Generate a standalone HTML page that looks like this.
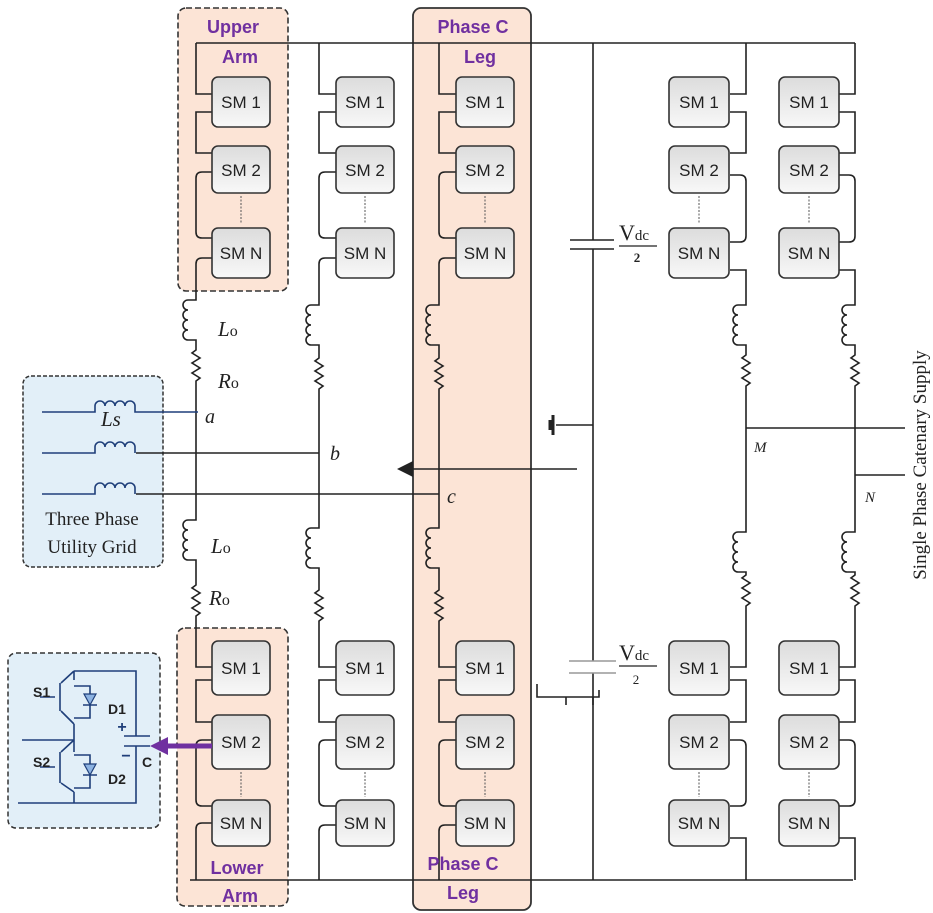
<!DOCTYPE html>
<html><head><meta charset="utf-8"><style>
html,body{margin:0;padding:0;background:#fff}
svg{display:block}
.w{fill:none;stroke:#222;stroke-width:1.6}
.sm{fill:url(#g);stroke:#333;stroke-width:1.6}
.t{font-family:"Liberation Sans",sans-serif;font-size:17px;fill:#222;text-anchor:middle}
.p{font-family:"Liberation Sans",sans-serif;font-weight:bold;font-size:18px;fill:#7030a0;text-anchor:middle}
.s{font-family:"Liberation Serif",serif;fill:#222}
.i{font-family:"Liberation Serif",serif;font-style:italic;fill:#222}
.d{stroke:#555;stroke-width:1;stroke-dasharray:2 1.5}
</style></head><body>
<svg width="933" height="913" viewBox="0 0 933 913" xmlns="http://www.w3.org/2000/svg">
<defs><linearGradient id="g" x1="0" y1="0" x2="0" y2="1"><stop offset="0" stop-color="#dcdcdc"/><stop offset="1" stop-color="#f8f8f8"/></linearGradient></defs>

<rect x="178" y="8" width="110" height="283" rx="8" fill="#fce4d6" stroke="#333" stroke-width="1.6" stroke-dasharray="6 3"/>
<rect x="177" y="628" width="111" height="278" rx="8" fill="#fce4d6" stroke="#333" stroke-width="1.6" stroke-dasharray="6 3"/>
<rect x="413" y="8" width="118" height="902" rx="8" fill="#fce4d6" stroke="#333" stroke-width="1.8"/>
<rect x="23" y="376" width="140" height="191" rx="8" fill="#e2eff8" stroke="#333" stroke-width="1.5" stroke-dasharray="4 2"/>
<rect x="8" y="653" width="152" height="175" rx="8" fill="#e2eff8" stroke="#333" stroke-width="1.5" stroke-dasharray="5 3"/>

<path class="w" d="M196 43 H855 M190 880 H853"/>

<g class="w">
<path d="M196 43 V94 H212 M212 112 H196 V153 H212 M212 172 H202 q-6 0 -6 6 V232 q0 6 6 6 H212 M212 258 H202 q-6 0 -6 6 V300 h-8 a5 5 0 0 0 0 10 a5 5 0 0 0 0 10 a5 5 0 0 0 0 10 a5 5 0 0 0 0 10 h8 V350 l-4 3 l8 5 l-8 5 l8 5 l-8 5 l8 5 l-4 3 V520 h-8 a5 5 0 0 0 0 10 a5 5 0 0 0 0 10 a5 5 0 0 0 0 10 a5 5 0 0 0 0 10 h8 V585 l-4 3 l8 5 l-8 5 l8 5 l-8 5 l8 5 l-4 3 V667 H212 M212 680 H196 V722 H212 M212 740 H202 q-6 0 -6 6 V800 q0 6 6 6 H212 M212 823 H202 q-6 0 -6 6 V880"/>
<path d="M319 43 V94 H336 M336 112 H319 V153 H336 M336 172 H325 q-6 0 -6 6 V232 q0 6 6 6 H336 M336 258 H325 q-6 0 -6 6 V305 h-8 a5 5 0 0 0 0 10 a5 5 0 0 0 0 10 a5 5 0 0 0 0 10 a5 5 0 0 0 0 10 h8 V358 l-4 3 l8 5 l-8 5 l8 5 l-8 5 l8 5 l-4 3 V528 h-8 a5 5 0 0 0 0 10 a5 5 0 0 0 0 10 a5 5 0 0 0 0 10 a5 5 0 0 0 0 10 h8 V590 l-4 3 l8 5 l-8 5 l8 5 l-8 5 l8 5 l-4 3 V667 H336 M336 680 H319 V722 H336 M336 740 H325 q-6 0 -6 6 V800 q0 6 6 6 H336 M336 825 H325 q-6 0 -6 6 V880"/>
<path d="M439 43 V94 H456 M456 112 H439 V153 H456 M456 172 H445 q-6 0 -6 6 V232 q0 6 6 6 H456 M456 258 H445 q-6 0 -6 6 V305 h-8 a5 5 0 0 0 0 10 a5 5 0 0 0 0 10 a5 5 0 0 0 0 10 a5 5 0 0 0 0 10 h8 V358 l-4 3 l8 5 l-8 5 l8 5 l-8 5 l8 5 l-4 3 V528 h-8 a5 5 0 0 0 0 10 a5 5 0 0 0 0 10 a5 5 0 0 0 0 10 a5 5 0 0 0 0 10 h8 V590 l-4 3 l8 5 l-8 5 l8 5 l-8 5 l8 5 l-4 3 V667 H456 M456 680 H439 V722 H456 M456 740 H445 q-6 0 -6 6 V800 q0 6 6 6 H456 M456 825 H445 q-6 0 -6 6 V880"/>
<path d="M746 43 V94 H730 M730 112 H746 V153 H730 M730 175 H740 q6 0 6 6 V236 q0 6 -6 6 H730 M730 270 H746 V305 h-8 a5 5 0 0 0 0 10 a5 5 0 0 0 0 10 a5 5 0 0 0 0 10 a5 5 0 0 0 0 10 h8 V355 l-4 3 l8 5 l-8 5 l8 5 l-8 5 l8 5 l-4 3 V532 h-8 a5 5 0 0 0 0 10 a5 5 0 0 0 0 10 a5 5 0 0 0 0 10 a5 5 0 0 0 0 10 h8 V575 l-4 3 l8 5 l-8 5 l8 5 l-8 5 l8 5 l-4 3 V667 H730 M730 680 H746 V722 H730 M730 740 H740 q6 0 6 6 V800 q0 6 -6 6 H730 M730 838 H746 V880"/>
<path d="M855 43 V94 H839 M839 112 H855 V153 H839 M839 175 H849 q6 0 6 6 V236 q0 6 -6 6 H839 M839 270 H855 V305 h-8 a5 5 0 0 0 0 10 a5 5 0 0 0 0 10 a5 5 0 0 0 0 10 a5 5 0 0 0 0 10 h8 V355 l-4 3 l8 5 l-8 5 l8 5 l-8 5 l8 5 l-4 3 V532 h-8 a5 5 0 0 0 0 10 a5 5 0 0 0 0 10 a5 5 0 0 0 0 10 a5 5 0 0 0 0 10 h8 V575 l-4 3 l8 5 l-8 5 l8 5 l-8 5 l8 5 l-4 3 V667 H839 M839 680 H855 V722 H839 M839 740 H849 q6 0 6 6 V800 q0 6 -6 6 H839 M839 838 H855 V880"/>
<path d="M746 428 H905 M855 475 H905"/>
<path d="M593 43 V240 M593 249 V661 M593 673 V880 M570 240 H614 M570 249 H614"/>
<path d="M556 425 H593"/>
<path d="M537 684 V697 H599 V690 M566 697 V705 M593 697 V705"/>
<path d="M136 453 H319 M136 494 H439 M531 469 H577 M413 469 H531"/>
</g>
<path d="M569 661 H616 M569 673 H616" stroke="#999" stroke-width="1.4"/>
<path d="M553 415 V435 M550 420 V430" stroke="#222" stroke-width="3"/>
<polygon points="397,469 413,461 413,477" fill="#222"/>

<g fill="none" stroke-width="1.6">
<path d="M42 412 H95 V406 a5 5 0 0 1 10 0 a5 5 0 0 1 10 0 a5 5 0 0 1 10 0 a5 5 0 0 1 10 0 V412 H198" stroke="#1f3f7a"/>
<path d="M42 453 H95 V447 a5 5 0 0 1 10 0 a5 5 0 0 1 10 0 a5 5 0 0 1 10 0 a5 5 0 0 1 10 0 V453" stroke="#1f3f7a"/>
<path d="M42 494 H95 V488 a5 5 0 0 1 10 0 a5 5 0 0 1 10 0 a5 5 0 0 1 10 0 a5 5 0 0 1 10 0 V494" stroke="#1f3f7a"/>
</g>

<g>
<rect class="sm" x="212" y="77" width="58" height="50" rx="6"/><rect class="sm" x="212" y="146" width="58" height="47" rx="6"/><rect class="sm" x="212" y="228" width="58" height="50" rx="6"/>
<rect class="sm" x="336" y="77" width="58" height="50" rx="6"/><rect class="sm" x="336" y="146" width="58" height="47" rx="6"/><rect class="sm" x="336" y="228" width="58" height="50" rx="6"/>
<rect class="sm" x="456" y="77" width="58" height="50" rx="6"/><rect class="sm" x="456" y="146" width="58" height="47" rx="6"/><rect class="sm" x="456" y="228" width="58" height="50" rx="6"/>
<rect class="sm" x="669" y="77" width="60" height="50" rx="6"/><rect class="sm" x="669" y="146" width="60" height="47" rx="6"/><rect class="sm" x="669" y="228" width="60" height="50" rx="6"/>
<rect class="sm" x="779" y="77" width="60" height="50" rx="6"/><rect class="sm" x="779" y="146" width="60" height="47" rx="6"/><rect class="sm" x="779" y="228" width="60" height="50" rx="6"/>
<rect class="sm" x="212" y="641" width="58" height="54" rx="6"/><rect class="sm" x="212" y="715" width="58" height="54" rx="6"/><rect class="sm" x="212" y="800" width="58" height="46" rx="6"/>
<rect class="sm" x="336" y="641" width="58" height="54" rx="6"/><rect class="sm" x="336" y="715" width="58" height="54" rx="6"/><rect class="sm" x="336" y="800" width="58" height="46" rx="6"/>
<rect class="sm" x="456" y="641" width="58" height="54" rx="6"/><rect class="sm" x="456" y="715" width="58" height="54" rx="6"/><rect class="sm" x="456" y="800" width="58" height="46" rx="6"/>
<rect class="sm" x="669" y="641" width="60" height="54" rx="6"/><rect class="sm" x="669" y="715" width="60" height="54" rx="6"/><rect class="sm" x="669" y="800" width="60" height="46" rx="6"/>
<rect class="sm" x="779" y="641" width="60" height="54" rx="6"/><rect class="sm" x="779" y="715" width="60" height="54" rx="6"/><rect class="sm" x="779" y="800" width="60" height="46" rx="6"/>
</g>
<g class="d">
<path d="M241 196 V224 M365 196 V224 M485 196 V224 M699 196 V224 M809 196 V224"/>
<path d="M241 772 V797 M365 772 V797 M485 772 V797 M699 772 V797 M809 772 V797"/>
</g>
<g class="t">
<text x="241" y="108">SM 1</text><text x="241" y="176">SM 2</text><text x="241" y="259">SM N</text>
<text x="365" y="108">SM 1</text><text x="365" y="176">SM 2</text><text x="365" y="259">SM N</text>
<text x="485" y="108">SM 1</text><text x="485" y="176">SM 2</text><text x="485" y="259">SM N</text>
<text x="699" y="108">SM 1</text><text x="699" y="176">SM 2</text><text x="699" y="259">SM N</text>
<text x="809" y="108">SM 1</text><text x="809" y="176">SM 2</text><text x="809" y="259">SM N</text>
<text x="241" y="674">SM 1</text><text x="241" y="748">SM 2</text><text x="241" y="829">SM N</text>
<text x="365" y="674">SM 1</text><text x="365" y="748">SM 2</text><text x="365" y="829">SM N</text>
<text x="485" y="674">SM 1</text><text x="485" y="748">SM 2</text><text x="485" y="829">SM N</text>
<text x="699" y="674">SM 1</text><text x="699" y="748">SM 2</text><text x="699" y="829">SM N</text>
<text x="809" y="674">SM 1</text><text x="809" y="748">SM 2</text><text x="809" y="829">SM N</text>
</g>

<text class="p" x="233" y="33">Upper</text><text class="p" x="240" y="63">Arm</text>
<text class="p" x="473" y="33">Phase C</text><text class="p" x="480" y="63">Leg</text>
<text class="p" x="237" y="874">Lower</text><text class="p" x="240" y="902">Arm</text>
<text class="p" x="463" y="870">Phase C</text><text class="p" x="463" y="899">Leg</text>

<text class="i" x="218" y="336" font-size="21">L<tspan font-style="normal" font-size="16">o</tspan></text>
<text class="i" x="218" y="388" font-size="21">R<tspan font-style="normal" font-size="16">o</tspan></text>
<text class="i" x="211" y="553" font-size="21">L<tspan font-style="normal" font-size="16">o</tspan></text>
<text class="i" x="209" y="605" font-size="21">R<tspan font-style="normal" font-size="16">o</tspan></text>
<text class="i" x="205" y="423" font-size="20">a</text>
<text class="i" x="330" y="460" font-size="20">b</text>
<text class="i" x="447" y="503" font-size="20">c</text>
<text class="i" x="101" y="426" font-size="21">Ls</text>
<text class="s" x="92" y="525" font-size="19" text-anchor="middle">Three Phase</text>
<text class="s" x="92" y="553" font-size="19" text-anchor="middle">Utility Grid</text>
<text class="i" x="754" y="452" font-size="15">M</text>
<text class="i" x="865" y="502" font-size="15">N</text>
<text class="s" x="926" y="465" font-size="19" text-anchor="middle" transform="rotate(-90 926 465)">Single Phase Catenary Supply</text>
<text class="s" x="619" y="240" font-size="22">V<tspan font-size="15">dc</tspan></text>
<path d="M619 246 H657" stroke="#222" stroke-width="1.2"/>
<text class="s" x="637" y="262" font-size="13" font-weight="bold" text-anchor="middle">2</text>
<text class="s" x="619" y="660" font-size="22">V<tspan font-size="15">dc</tspan></text>
<path d="M619 666 H657" stroke="#222" stroke-width="1.2"/>
<text class="s" x="636" y="684" font-size="13" text-anchor="middle">2</text>

<g fill="none" stroke="#1f3f7a" stroke-width="1.6">
<path d="M74 671 H136 V736 M136 746 V803 H18 M22 740 H74 V724 M74 671 V680 M60 683 V711 M61 683 L74 671 M61 711 L74 724 M74 686 H90 V718 H74 M74 803 V792 M60 752 V783 M61 752 L74 740 M61 783 L74 792 M74 755 H90 V788 H74 M74 740 V752"/>
<path d="M40 697 H55 M40 767 H55 M124 736 H150 M124 746 H150"/>
<path d="M83 705 H97 M83 775 H97"/>
</g>
<polygon points="90,705 84,694 96,694" fill="#8db3e2" stroke="#1f3f7a" stroke-width="1.2"/>
<polygon points="90,775 84,764 96,764" fill="#8db3e2" stroke="#1f3f7a" stroke-width="1.2"/>
<g font-family="Liberation Sans,sans-serif" font-weight="bold" font-size="14" fill="#222">
<text x="33" y="697">S1</text><text x="33" y="767">S2</text>
<text x="108" y="714">D1</text><text x="108" y="784">D2</text>
<text x="142" y="767">C</text>
</g>
<text x="122" y="732" font-family="Liberation Sans,sans-serif" font-weight="bold" font-size="16" fill="#1f3f7a" text-anchor="middle">+</text>
<text x="126" y="761" font-family="Liberation Sans,sans-serif" font-weight="bold" font-size="16" fill="#1f3f7a" text-anchor="middle">−</text>
<path d="M212 746 H165" stroke="#7030a0" stroke-width="5"/>
<polygon points="150,746 168,737 168,755" fill="#7030a0"/>
</svg>
</body></html>
